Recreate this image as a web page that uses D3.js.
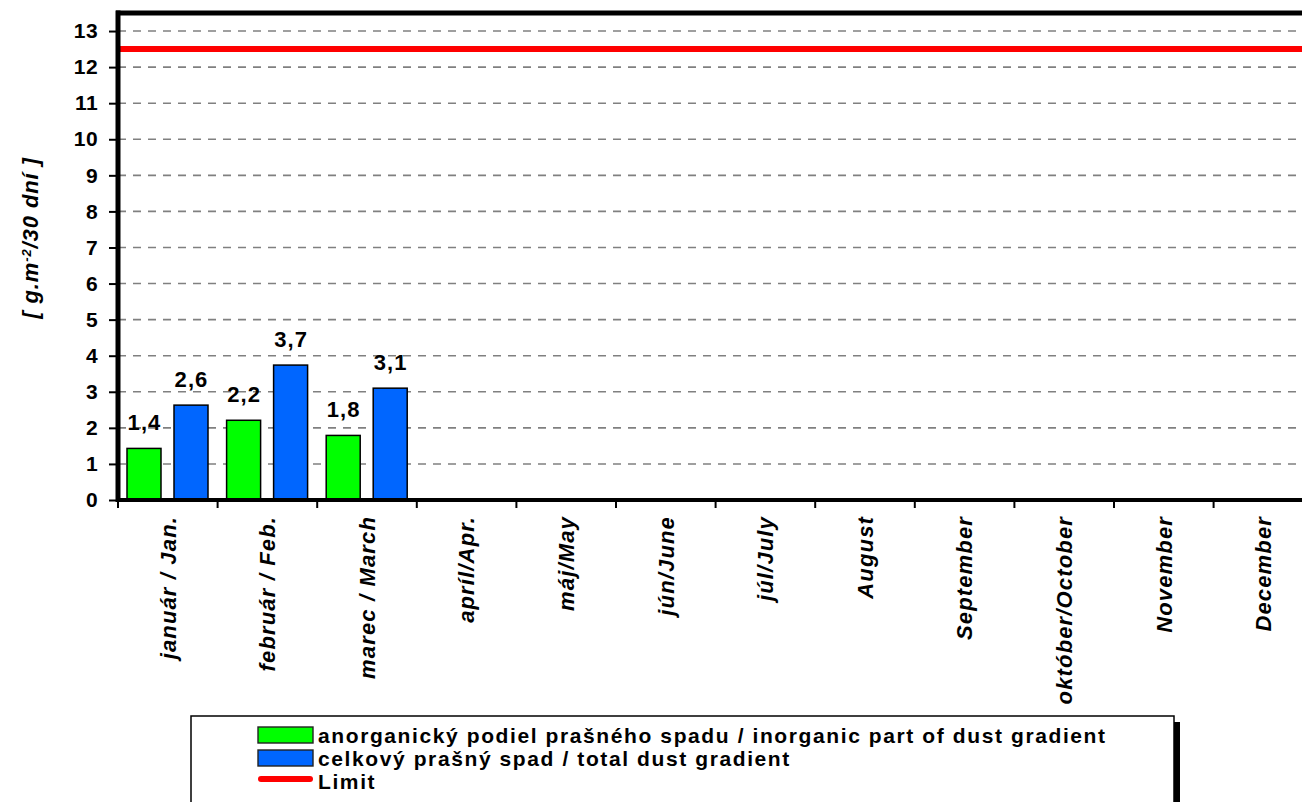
<!DOCTYPE html>
<html>
<head>
<meta charset="utf-8">
<script src="https://cdn.jsdelivr.net/npm/d3@7"></script>
<style>
  html, body { margin: 0; padding: 0; background: #fff; }
  svg { display: block; font-family: "Liberation Sans", Arial, sans-serif; }
</style>
</head>
<body>
<svg id="chart" width="1302" height="802"></svg>
<script>
// ---- data ----
const months = ["január / Jan.", "február / Feb.", "marec / March", "apríl/Apr.", "máj/May", "jún/June",
                "júl/July", "August", "September", "október/October", "November", "December"];
const inorganic = [1.43, 2.21, 1.79, null, null, null, null, null, null, null, null, null];
const total = [2.63, 3.74, 3.1, null, null, null, null, null, null, null, null, null];
const limitValue = 12.5;
const yTicks = [0, 1, 2, 3, 4, 5, 6, 7, 8, 9, 10, 11, 12, 13];
const seriesNames = ["anorganický podiel prašného spadu / inorganic part of dust gradient",
                     "celkový prašný spad / total dust gradient", "Limit"];
const seriesColors = ["#00ff00", "#0066ff", "#ff0000"];

// ---- layout ----
const svg = d3.select("#chart");
const x0 = 118, bandW = 99.6;
const x = d3.scaleBand().domain(months).range([x0, x0 + bandW * months.length]).paddingInner(0).paddingOuter(0);
const y = d3.scaleLinear().domain([0, 13.5]).range([500, 13]);
const fmt = v => d3.format(".1f")(v).replace(".", ",");

// gridlines
svg.append("g").selectAll("line").data(yTicks.filter(d => d > 0)).join("line")
  .attr("x1", x0).attr("x2", 1302)
  .attr("y1", d => y(d)).attr("y2", d => y(d))
  .attr("stroke", "#808080").attr("stroke-width", 1.6).attr("stroke-dasharray", "8,7");

// bars
const barW = 34;
const offsets = [9, 56];
[inorganic, total].forEach((series, si) => {
  const g = svg.append("g");
  const data = months.map((m, i) => ({ m, v: series[i] })).filter(d => d.v != null);
  g.selectAll("rect").data(data).join("rect")
    .attr("x", d => x(d.m) + offsets[si])
    .attr("width", barW)
    .attr("y", d => y(d.v))
    .attr("height", d => y(0) - y(d.v))
    .attr("fill", seriesColors[si])
    .attr("stroke", "#000").attr("stroke-width", 1.5);
  g.selectAll("text").data(data).join("text")
    .attr("x", d => x(d.m) + offsets[si] + barW / 2 + 0.5)
    .attr("y", d => y(d.v) - 18)
    .attr("text-anchor", "middle")
    .attr("font-weight", "bold").attr("font-size", 22).attr("letter-spacing", 1.1)
    .text(d => fmt(d.v));
});

// limit line
svg.append("line")
  .attr("x1", x0).attr("x2", 1302)
  .attr("y1", y(limitValue)).attr("y2", y(limitValue))
  .attr("stroke", seriesColors[2]).attr("stroke-width", 6);

// frame top
svg.append("line").attr("x1", x0 - 2).attr("x2", 1302)
  .attr("y1", y(13.5)).attr("y2", y(13.5))
  .attr("stroke", "#000").attr("stroke-width", 5);

// y axis
const yAxis = d3.axisLeft(y).tickValues(yTicks).tickSize(9).tickPadding(11).tickFormat(d3.format("d"));
const yg = svg.append("g").attr("transform", `translate(${x0},0)`).call(yAxis);
yg.select(".domain").remove();
yg.selectAll(".tick line").attr("stroke", "#000").attr("stroke-width", 2);
yg.selectAll(".tick text").attr("font-size", 21).attr("font-weight", "bold").attr("fill", "#000")
  .attr("letter-spacing", 0.4)
  .attr("font-family", "'Liberation Sans', Arial, sans-serif");
svg.append("line").attr("x1", x0).attr("x2", x0).attr("y1", y(13.5) - 2.5).attr("y2", 502)
  .attr("stroke", "#000").attr("stroke-width", 5);

// x axis
const xAxis = d3.axisBottom(x).tickSize(0).tickFormat("");
const xg = svg.append("g").attr("transform", `translate(0,${y(0)})`).call(xAxis);
xg.select(".domain").remove();
svg.append("line").attr("x1", x0 - 2).attr("x2", 1302).attr("y1", y(0)).attr("y2", y(0))
  .attr("stroke", "#000").attr("stroke-width", 4);
svg.append("g").selectAll("line").data(months).join("line")
  .attr("x1", d => x(d)).attr("x2", d => x(d))
  .attr("y1", y(0)).attr("y2", y(0) + 8)
  .attr("stroke", "#000").attr("stroke-width", 2);
svg.append("g").selectAll("text").data(months).join("text")
  .attr("transform", d => `translate(${x(d) + x.bandwidth() / 2},516) rotate(-90)`)
  .attr("text-anchor", "end").attr("dy", "0.35em")
  .attr("font-weight", "bold").attr("font-style", "italic").attr("font-size", 22)
  .attr("letter-spacing", 1.15)
  .text(d => d);

// y axis title
const yt = svg.append("text")
  .attr("transform", "translate(30,238) rotate(-90)")
  .attr("text-anchor", "middle").attr("dy", "0.35em")
  .attr("font-weight", "bold").attr("font-style", "italic").attr("font-size", 22)
  .attr("letter-spacing", 0.9);
yt.append("tspan").text("[ g.m");
yt.append("tspan").attr("baseline-shift", "super").attr("font-size", 13).text("-2");
yt.append("tspan").text("/30 dní ]");

// legend
const lg = svg.append("g");
lg.append("rect").attr("x", 1174).attr("y", 722).attr("width", 6).attr("height", 100).attr("fill", "#000");
lg.append("rect").attr("x", 191).attr("y", 716).attr("width", 983).attr("height", 100)
  .attr("fill", "#fff").attr("stroke", "#000").attr("stroke-width", 1.5);
const rowY = [743, 766, 789];
[0, 1].forEach(i => {
  lg.append("rect").attr("x", 258).attr("y", rowY[i] - 16).attr("width", 55).attr("height", 16)
    .attr("fill", seriesColors[i]).attr("stroke", "#222").attr("stroke-width", 1.4);
});
lg.append("line").attr("x1", 261).attr("x2", 310).attr("y1", rowY[2] - 10).attr("y2", rowY[2] - 10)
  .attr("stroke", seriesColors[2]).attr("stroke-width", 6).attr("stroke-linecap", "round");
seriesNames.forEach((n, i) => {
  lg.append("text").attr("x", 318).attr("y", rowY[i])
    .attr("font-weight", "bold").attr("font-size", 21).attr("letter-spacing", 1.6).text(n);
});
</script>
</body>
</html>
